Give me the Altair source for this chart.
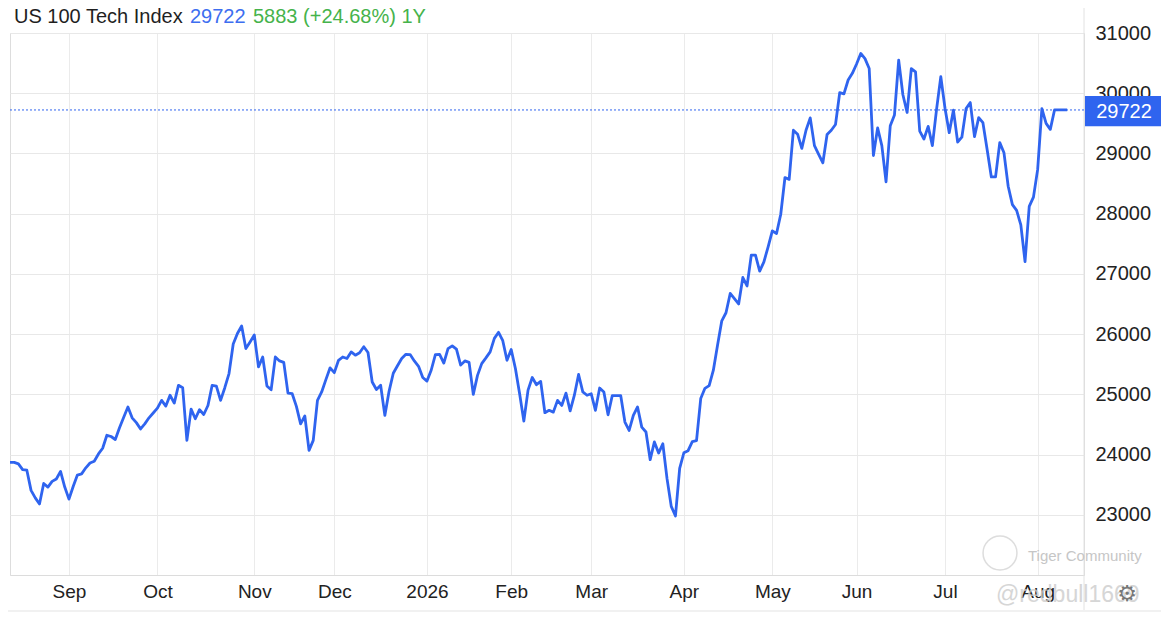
import pandas as pd
import altair as alt

# --- Dati: una chiusura per seduta, 12 ago 2025 -> 12 ago 2026 ---
close = [
    # ago - set 2025
    23870, 23870, 23845, 23750, 23740, 23405, 23280, 23180, 23520, 23460,
    23555, 23595, 23720, 23460, 23260, 23470, 23660, 23680, 23780, 23860,
    23890, 24010, 24105, 24320, 24300, 24250, 24445, 24620, 24790, 24610,
    24530, 24425,
    # ott - nov
    24510, 24610, 24690, 24770, 24900, 24805, 24985, 24855, 25150, 25110,
    24235, 24755, 24595, 24745, 24665, 24815, 25150, 25135, 24900, 25110,
    25345, 25835, 26010, 26135, 25760, 25870, 25985, 25455, 25620, 25140,
    25075,
    # nov - dic
    25620, 25555, 25530, 25020, 25010, 24800, 24510, 24640, 24070, 24235,
    24900, 25040, 25245, 25440, 25360, 25565, 25620, 25595, 25705, 25650,
    25690, 25790, 25695, 25205, 25080, 25150, 24650, 25050, 25350, 25475,
    # gen - feb 2026
    25595, 25665, 25660, 25555, 25465, 25280, 25220, 25400, 25660, 25665,
    25520, 25760, 25805, 25750, 25485, 25555, 25530, 25000, 25315, 25510,
    25605, 25705, 25930, 26030, 25890, 25565, 25745, 25430, 25010, 24555,
    25070, 25280,
    # feb - mar
    25160, 25215, 24695, 24735, 24705, 24900, 24815, 25020, 24725, 24985,
    25330, 25040, 24985, 25010, 24735, 25105, 25040, 24660, 24980, 24980,
    24980, 24540, 24400, 24650, 24790, 24455, 24375, 23915, 24210, 24025,
    24180, 23600, 23140, 22980,
    # apr - mag
    23770, 24030, 24065, 24215, 24230, 24930, 25100, 25145, 25400, 25820,
    26220, 26355, 26675, 26590, 26500, 26940, 26800, 27310, 27310, 27045,
    27200, 27450, 27715, 27670, 27990, 28600, 28570, 29385, 29320, 29085,
    29385, 29590,
    # mag - lug
    29130, 28985, 28845, 29315, 29385, 29480, 30010, 29990, 30220, 30330,
    30485, 30660, 30575, 30410, 28965, 29425, 29130, 28530, 29460, 29640,
    30550, 29975, 29680, 30410, 30355, 29370, 29240, 29450, 29130, 29735,
    30275,
    # lug - ago
    29750, 29345, 29720, 29190, 29270, 29745, 29845, 29280, 29595, 29510,
    29065, 28610, 28610, 29180, 29010, 28455, 28150, 28055, 27815, 27205,
    28120, 28275, 28735, 29745, 29500, 29400, 29722, 29722, 29722, 29722,
]

# prima seduta di ogni mese (indice di seduta) e relative etichette
month_start_session = [14, 35, 58, 77, 99, 119, 138, 160, 181, 201, 222, 244]
month_labels = ["Sep", "Oct", "Nov", "Dec", "2026", "Feb", "Mar", "Apr", "May", "Jun", "Jul", "Aug"]

price_ticks = [23000, 24000, 25000, 26000, 27000, 28000, 29000, 30000, 31000]

index_name = "US 100 Tech Index"
last_price = 29722
change_text = "5883 (+24.68%) 1Y"

df = pd.DataFrame({"session": range(len(close)), "close": close})
one_row = pd.DataFrame({"k": [0]})

BLUE = "#2f64ef"
GREEN = "#45b34b"
FONT = "Liberation Sans"

label_expr = "{labels}[indexof({ticks}, datum.value)]".format(
    labels="[" + ",".join("'%s'" % m for m in month_labels) + "]",
    ticks="[" + ",".join(str(t) for t in month_start_session) + "]",
)

x_scale = alt.Scale(domain=[0, 255], nice=False, zero=False)
y_scale = alt.Scale(domain=[22000, 31000], nice=False, zero=False)

# --- Linea principale ---
line = alt.Chart(df).mark_line(
    color=BLUE, strokeWidth=2.8, strokeJoin="round"
).encode(
    x=alt.X(
        "session:Q", scale=x_scale,
        axis=alt.Axis(
            title=None, values=month_start_session, labelExpr=label_expr,
            grid=True, gridColor="#ebebeb", domainColor="#dcdcdc", ticks=False,
            labelFont=FONT, labelFontSize=19, labelColor="#222222",
            labelPadding=7, labelOverlap=False, labelFlush=False,
        ),
    ),
    y=alt.Y(
        "close:Q", scale=y_scale,
        axis=alt.Axis(
            title=None, orient="right", values=price_ticks, format="d",
            grid=True, gridColor="#e8e8e8", domain=False, ticks=False,
            labelFont=FONT, labelFontSize=20, labelColor="#222222",
            labelPadding=11,
        ),
    ),
)

# --- Ultimo prezzo: linea tratteggiata + etichetta ---
last_rule = alt.Chart(one_row).mark_rule(
    color=BLUE, strokeDash=[2, 2], strokeWidth=1
).encode(y=alt.datum(last_price))

badge = alt.Chart(one_row).mark_rect(color=BLUE).encode(
    x=alt.value(1075), x2=alt.value(1152),
    y=alt.datum(last_price + 230), y2=alt.datum(last_price - 270),
)
badge_text = alt.Chart(one_row).mark_text(
    color="white", font=FONT, fontSize=20, align="center", baseline="middle", dy=2
).encode(x=alt.value(1114), y=alt.datum(last_price), text=alt.value(str(last_price)))

# --- Cornice ---
right_border = alt.Chart(one_row).mark_rule(color="#e2e2e2").encode(
    x=alt.value(1074), y=alt.value(-33), y2=alt.value(577)
)
bottom_band = alt.Chart(one_row).mark_rect(color="#f1f1f1").encode(
    x=alt.value(-10), x2=alt.value(1160), y=alt.value(577), y2=alt.value(590)
)


def text_layer(text, x, y, color, size, font=FONT, baseline="alphabetic", opacity=1):
    return alt.Chart(one_row).mark_text(
        align="left", baseline=baseline, font=font, fontSize=size,
        color=color, opacity=opacity,
    ).encode(x=alt.value(x), y=alt.value(y), text=alt.value(text))


title_a = text_layer(index_name, 4, -10, "#1f1f1f", 20)
title_b = text_layer(str(last_price), 180, -10, "#3d6ef0", 20)
title_c = text_layer(change_text, 243, -10, GREEN, 20)

# --- Watermark ---
logo = alt.Chart(one_row).mark_point(
    shape="circle", size=1150, filled=False, stroke="#cfcfcf", strokeWidth=1.5
).encode(x=alt.value(990), y=alt.value(520))
wm_1 = text_layer("Tiger Community", 1018, 523, "#c6c6c6", 15, baseline="middle")
wm_2 = text_layer("@redbull1669", 986, 562, "#cccccc", 23, baseline="middle", opacity=0.8)
gear = alt.Chart(one_row).mark_text(
    font="DejaVu Sans", fontSize=22, color="#777777", align="center", baseline="middle"
).encode(x=alt.value(1117), y=alt.value(561), text=alt.value("\u2699"))

chart = alt.layer(
    bottom_band, right_border, line, last_rule, badge, badge_text,
    title_a, title_b, title_c, logo, wm_1, wm_2, gear,
).properties(
    width=1074,
    height=542,
    padding={"left": 2, "top": 25, "right": 77, "bottom": 37},
    autosize=alt.AutoSizeParams(type="none"),
).configure_view(
    strokeWidth=0
).configure(
    background="#ffffff"
)

chart.save("out.html", embed_options={"renderer": "svg", "actions": False})
